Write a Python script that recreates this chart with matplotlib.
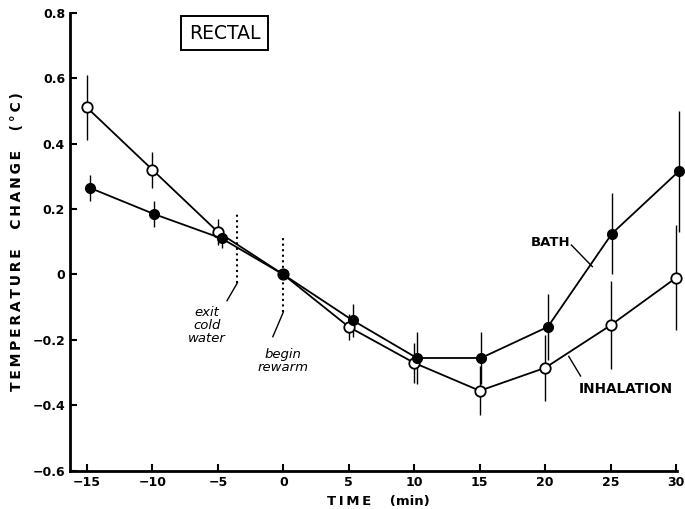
import matplotlib
matplotlib.use("Agg")
import matplotlib.pyplot as plt

# Data
time = [-15, -10, -5, 0, 5, 10, 15, 20, 25, 30]
bath_time = [-14.8, -9.9, -4.7, 0, 5.3, 10.2, 15.1, 20.2, 25.1, 30.2]
bath = [0.265, 0.185, 0.11, 0.0, -0.14, -0.255, -0.255, -0.16, 0.125, 0.315]
bath_err = [0.04, 0.04, 0.03, 0.0, 0.05, 0.08, 0.08, 0.10, 0.125, 0.185]
inhal = [0.51, 0.32, 0.13, 0.0, -0.16, -0.27, -0.355, -0.285, -0.155, -0.01]
inhal_err = [0.10, 0.055, 0.04, 0.0, 0.04, 0.06, 0.075, 0.10, 0.135, 0.16]

xticks = [-15, -10, -5, 0, 5, 10, 15, 20, 25, 30]
xticklabels = ["\u221215", "\u221210", "\u22125", "0", "5", "10", "15", "20", "25", "30"]
yticks = [-0.6, -0.4, -0.2, 0, 0.2, 0.4, 0.6, 0.8]
yticklabels = ["\u22120.6", "\u22120.4", "\u22120.2", "0", "0.2", "0.4", "0.6", "0.8"]

plt.rcParams['font.family'] = ['DejaVu Sans']

fig = plt.figure(figsize=(6.85, 5.09), dpi=100)
ax = fig.add_axes([0.102, 0.0747, 0.886, 0.9007])

ax.errorbar(time, inhal, yerr=inhal_err, fmt='none', ecolor='black', elinewidth=1.0, capsize=0,
            zorder=2, clip_on=False)
ax.errorbar(bath_time, bath, yerr=bath_err, fmt='none', ecolor='black', elinewidth=1.0, capsize=0,
            zorder=2, clip_on=False)
ax.plot(time, inhal, '-o', color='black', lw=1.3, markersize=7.5, markerfacecolor='white',
        markeredgecolor='black', markeredgewidth=1.3, zorder=3, clip_on=False)
ax.plot(bath_time, bath, '-o', color='black', lw=1.3, markersize=7, markerfacecolor='black',
        markeredgecolor='black', zorder=4, clip_on=False)

ax.set_xlim(-16.3, 30.05)
ax.set_ylim(-0.6, 0.8)
ax.set_xticks(xticks)
ax.set_xticklabels(xticklabels)
ax.set_yticks(yticks)
ax.set_yticklabels(yticklabels)
ax.tick_params(direction='in', length=5, width=1.5, labelsize=9)
for lab in ax.get_xticklabels() + ax.get_yticklabels():
    lab.set_fontweight('bold')

for s in ['top', 'right']:
    ax.spines[s].set_visible(False)
for s in ['left', 'bottom']:
    ax.spines[s].set_linewidth(2)

ts = "\u2009"
ax.set_ylabel(ts.join("TEMPERATURE") + "    " + ts.join("CHANGE") + "    " + ts.join("(°C)"),
              fontsize=10, fontweight='bold')
ax.yaxis.set_label_coords(-0.075, 0.50)
ax.set_xlabel(ts.join("TIME") + "    (min)", fontsize=9.5, fontweight='bold')
ax.xaxis.set_label_coords(0.508, -0.052)

# RECTAL box
ax.text(-4.5, 0.736, "RECTAL", fontsize=13.5, ha='center', va='center',
        bbox=dict(boxstyle='square,pad=0.4', facecolor='white', edgecolor='black', lw=1.4))

# event markers
ax.plot([-3.5, -3.5], [-0.025, 0.19], ls=':', color='black', lw=1.5)
ax.plot([-3.5, -4.3], [-0.025, -0.08], color='black', lw=1.0)
ax.text(-4.4, -0.155, "exit\ncold\nwater", fontsize=9.5, style='italic', ha='right', va='center',
        multialignment='center', linespacing=1.0)

ax.plot([0, 0], [-0.115, 0.115], ls=':', color='black', lw=1.5)
ax.plot([0, -0.8], [-0.115, -0.19], color='black', lw=1.0)
ax.text(0.0, -0.265, "begin\nrewarm", fontsize=9.5, style='italic', ha='center', va='center',
        linespacing=1.0)

# series labels
ax.text(21.9, 0.097, "BATH", fontsize=9.5, fontweight='bold', ha='right', va='center')
ax.plot([22.0, 23.6], [0.09, 0.024], color='black', lw=1.0)
ax.text(22.6, -0.35, "INHALATION", fontsize=9.8, fontweight='bold', ha='left', va='center')
ax.plot([22.7, 21.8], [-0.31, -0.25], color='black', lw=1.0)

fig.savefig("out.png", dpi=100)
